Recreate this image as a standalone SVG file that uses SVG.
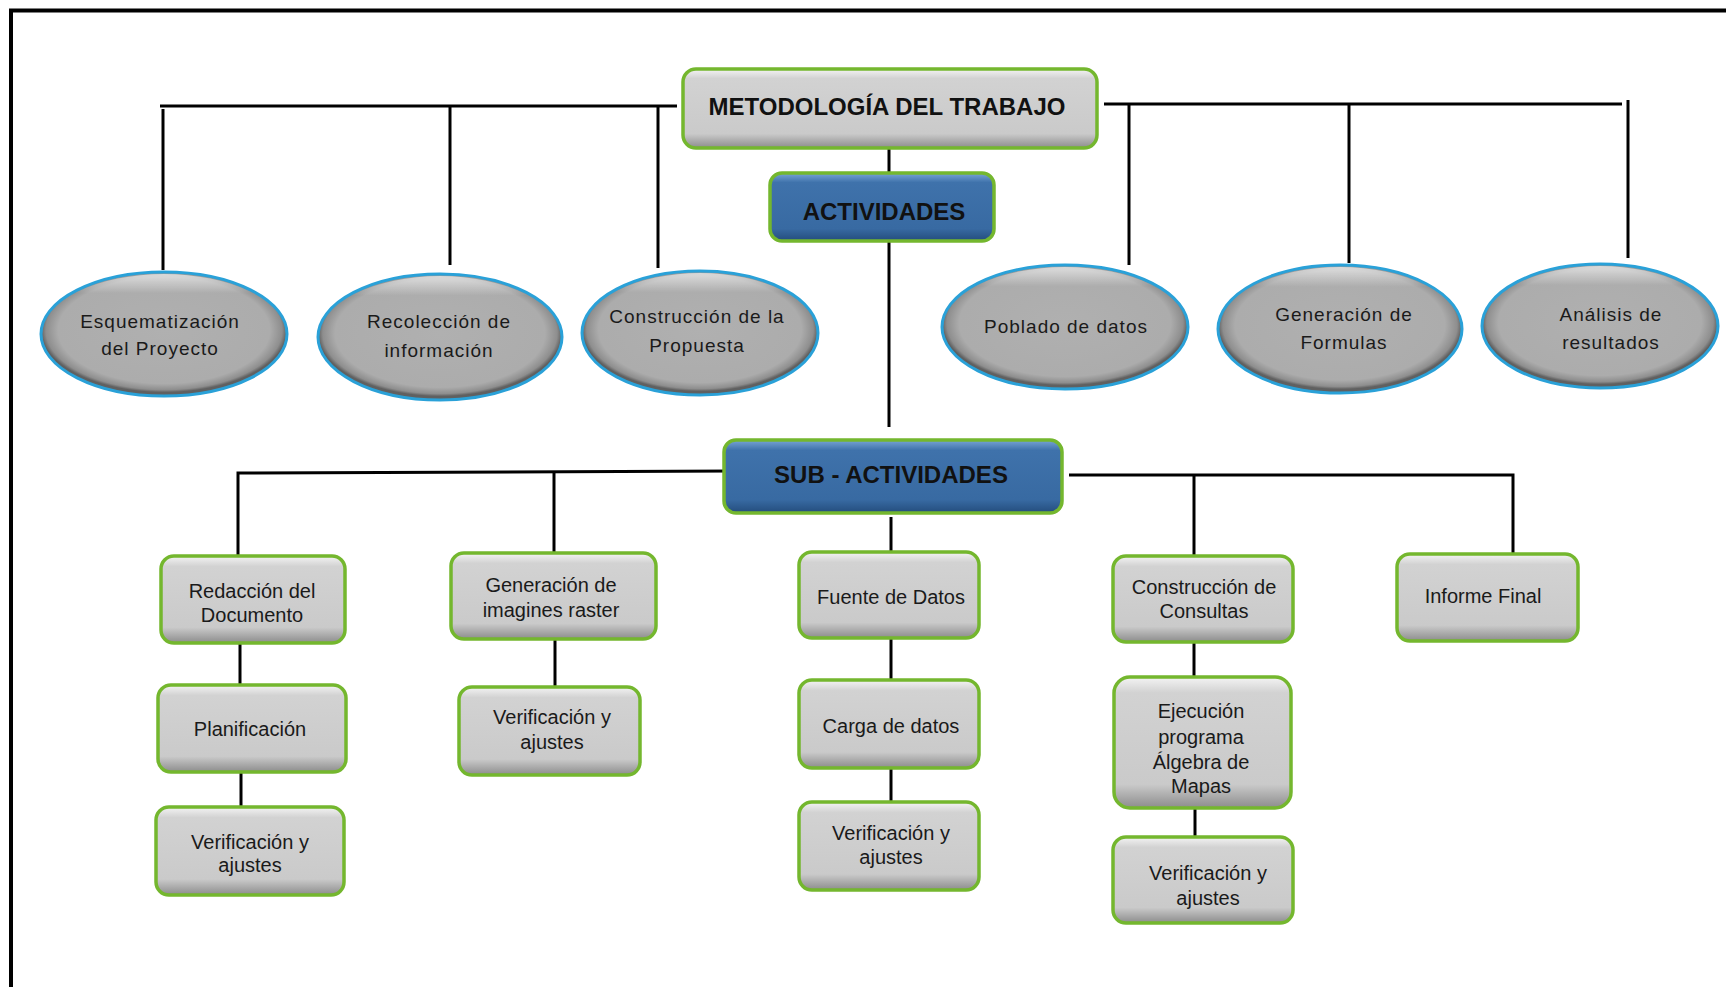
<svg xmlns="http://www.w3.org/2000/svg" width="1726" height="987" viewBox="0 0 1726 987">
<defs>
<linearGradient id="gBox" x1="0" y1="0" x2="0" y2="1">
<stop offset="0" stop-color="#f4f4f4"/>
<stop offset="0.12" stop-color="#d2d2d2"/>
<stop offset="0.82" stop-color="#cacaca"/>
<stop offset="1" stop-color="#8c8c8c"/>
</linearGradient>
<linearGradient id="gBlue" x1="0" y1="0" x2="0" y2="1">
<stop offset="0" stop-color="#79a6d6"/>
<stop offset="0.14" stop-color="#3f72ab"/>
<stop offset="0.82" stop-color="#386aa2"/>
<stop offset="1" stop-color="#234c7c"/>
</linearGradient>
<radialGradient id="gEll" cx="0.5" cy="0.47" r="0.5">
<stop offset="0" stop-color="#b0b0b0"/>
<stop offset="0.86" stop-color="#acacac"/>
<stop offset="0.96" stop-color="#8e8e8e"/>
<stop offset="1" stop-color="#606060"/>
</radialGradient>
<linearGradient id="gEllHi" x1="0" y1="0" x2="0" y2="1">
<stop offset="0" stop-color="#ffffff" stop-opacity="0.6"/>
<stop offset="0.16" stop-color="#ffffff" stop-opacity="0"/>
<stop offset="1" stop-color="#ffffff" stop-opacity="0"/>
</linearGradient>
</defs>
<style>
.box{fill:url(#gBox);stroke:#74b72e;stroke-width:3.5}
.blue{fill:url(#gBlue);stroke:#74b72e;stroke-width:3.5}
.ell{fill:url(#gEll);stroke:#2aa1d8;stroke-width:3}
.hi{fill:url(#gEllHi);stroke:none}
.t{font-family:"Liberation Sans",Arial,sans-serif;font-size:20px;fill:#1a1a1a;text-anchor:middle}
.te{font-family:"Liberation Sans",Arial,sans-serif;font-size:19px;letter-spacing:1px;fill:#1a1a1a;text-anchor:middle}
.tb{font-family:"Liberation Sans",Arial,sans-serif;font-size:24px;font-weight:bold;fill:#111;text-anchor:middle}
.ln{stroke:#000;stroke-width:3;fill:none}
.frame{stroke:#000;stroke-width:4;fill:none}
</style>
<rect width="1726" height="987" fill="#ffffff"/>
<path class="frame" d="M11,987 V10.5 H1726"/>
<g id="connectors">
<path class="ln" d="M160,106 H677"/>
<path class="ln" d="M163,109 V270"/>
<path class="ln" d="M450,106 V265"/>
<path class="ln" d="M658,106 V268"/>
<path class="ln" d="M1104,104 H1622"/>
<path class="ln" d="M1129,104 V265"/>
<path class="ln" d="M1349,104 V263"/>
<path class="ln" d="M1628,100 V258"/>
<path class="ln" d="M889,148 V173"/>
<path class="ln" d="M889,241 V427"/>
<path class="ln" d="M238,555 V473 L733,471"/>
<path class="ln" d="M554,471 V553"/>
<path class="ln" d="M891,517 V552"/>
<path class="ln" d="M1069,475 H1513 V554"/>
<path class="ln" d="M1194,475 V556"/>
<path class="ln" d="M240,643 V685"/>
<path class="ln" d="M241,772 V807"/>
<path class="ln" d="M555,639 V687"/>
<path class="ln" d="M891,638 V680"/>
<path class="ln" d="M891,768 V802"/>
<path class="ln" d="M1194,642 V677"/>
<path class="ln" d="M1195,808 V837"/>
</g>
<g id="metodologia">
<rect class="box" x="683" y="69" width="414" height="79" rx="13"/>
<text class="tb" x="887" y="115">METODOLOGÍA DEL TRABAJO</text>
</g>
<g id="actividades">
<rect class="blue" x="770" y="173" width="224" height="68" rx="12"/>
<text class="tb" x="884" y="220">ACTIVIDADES</text>
</g>
<g id="esquematizacion">
<ellipse class="ell" cx="164" cy="334" rx="123" ry="62"/>
<ellipse class="hi" cx="164" cy="334" rx="121" ry="60"/>
<text class="te" x="160" y="328">Esquematización</text>
<text class="te" x="160" y="355">del Proyecto</text>
</g>
<g id="recoleccion">
<ellipse class="ell" cx="440" cy="337" rx="122" ry="63"/>
<ellipse class="hi" cx="440" cy="337" rx="120" ry="61"/>
<text class="te" x="439" y="328">Recolección de</text>
<text class="te" x="439" y="357">información</text>
</g>
<g id="construccion">
<ellipse class="ell" cx="700" cy="333" rx="118" ry="62"/>
<ellipse class="hi" cx="700" cy="333" rx="116" ry="60"/>
<text class="te" x="697" y="323">Construcción de la</text>
<text class="te" x="697" y="352">Propuesta</text>
</g>
<g id="poblado">
<ellipse class="ell" cx="1065" cy="327" rx="123" ry="62"/>
<ellipse class="hi" cx="1065" cy="327" rx="121" ry="60"/>
<text class="te" x="1066" y="333">Poblado de datos</text>
</g>
<g id="generacion-formulas">
<ellipse class="ell" cx="1340" cy="329" rx="122" ry="64"/>
<ellipse class="hi" cx="1340" cy="329" rx="120" ry="62"/>
<text class="te" x="1344" y="321">Generación de</text>
<text class="te" x="1344" y="349">Formulas</text>
</g>
<g id="analisis">
<ellipse class="ell" cx="1600" cy="326" rx="118" ry="62"/>
<ellipse class="hi" cx="1600" cy="326" rx="116" ry="60"/>
<text class="te" x="1611" y="321">Análisis de</text>
<text class="te" x="1611" y="349">resultados</text>
</g>
<g id="sub-actividades">
<rect class="blue" x="724" y="440" width="338" height="73" rx="12"/>
<text class="tb" x="891" y="483">SUB - ACTIVIDADES</text>
</g>
<g id="redaccion">
<rect class="box" x="161" y="556" width="184" height="87" rx="13"/>
<text class="t" x="252" y="598">Redacción del</text>
<text class="t" x="252" y="622">Documento</text>
</g>
<g id="planificacion">
<rect class="box" x="158" y="685" width="188" height="87" rx="13"/>
<text class="t" x="250" y="736">Planificación</text>
</g>
<g id="verificacion-1">
<rect class="box" x="156" y="807" width="188" height="88" rx="13"/>
<text class="t" x="250" y="849">Verificación y</text>
<text class="t" x="250" y="872">ajustes</text>
</g>
<g id="generacion-imagines">
<rect class="box" x="451" y="553" width="205" height="86" rx="13"/>
<text class="t" x="551" y="592">Generación de</text>
<text class="t" x="551" y="617">imagines raster</text>
</g>
<g id="verificacion-2">
<rect class="box" x="459" y="687" width="181" height="88" rx="13"/>
<text class="t" x="552" y="724">Verificación y</text>
<text class="t" x="552" y="749">ajustes</text>
</g>
<g id="fuente">
<rect class="box" x="799" y="552" width="180" height="86" rx="13"/>
<text class="t" x="891" y="604">Fuente de Datos</text>
</g>
<g id="carga">
<rect class="box" x="799" y="680" width="180" height="88" rx="13"/>
<text class="t" x="891" y="733">Carga de datos</text>
</g>
<g id="verificacion-3">
<rect class="box" x="799" y="802" width="180" height="88" rx="13"/>
<text class="t" x="891" y="840">Verificación y</text>
<text class="t" x="891" y="864">ajustes</text>
</g>
<g id="construccion-consultas">
<rect class="box" x="1113" y="556" width="180" height="86" rx="13"/>
<text class="t" x="1204" y="594">Construcción de</text>
<text class="t" x="1204" y="618">Consultas</text>
</g>
<g id="ejecucion">
<rect class="box" x="1114" y="677" width="177" height="131" rx="16"/>
<text class="t" x="1201" y="718">Ejecución</text>
<text class="t" x="1201" y="744">programa</text>
<text class="t" x="1201" y="769">Álgebra de</text>
<text class="t" x="1201" y="793">Mapas</text>
</g>
<g id="verificacion-4">
<rect class="box" x="1113" y="837" width="180" height="86" rx="13"/>
<text class="t" x="1208" y="880">Verificación y</text>
<text class="t" x="1208" y="905">ajustes</text>
</g>
<g id="informe">
<rect class="box" x="1397" y="554" width="181" height="87" rx="13"/>
<text class="t" x="1483" y="603">Informe Final</text>
</g>
</svg>
